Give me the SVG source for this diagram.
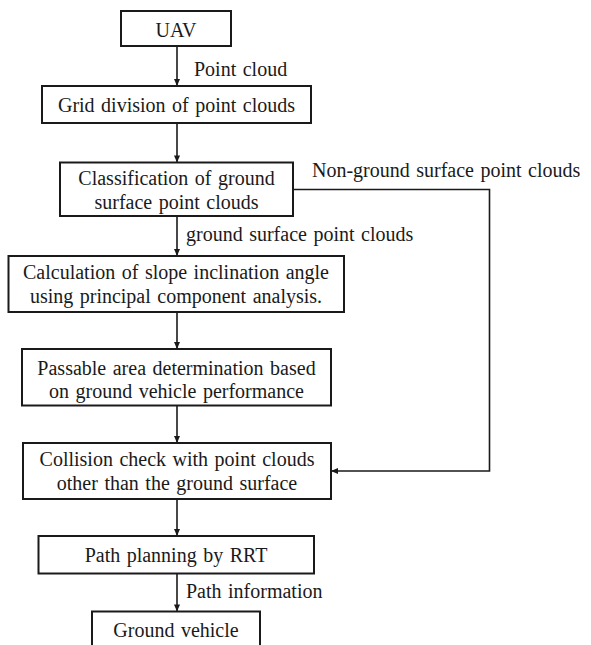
<svg xmlns="http://www.w3.org/2000/svg" width="591" height="645" viewBox="0 0 591 645">
<style>
.box{fill:#fff;stroke:#1a1a1a;stroke-width:2}
.t{font-family:"Liberation Serif","Times New Roman",serif;font-size:20px;fill:#1a1a1a;word-spacing:1.5px}
.c{text-anchor:middle}
.ln{fill:none;stroke:#1a1a1a;stroke-width:1.6}
</style>
<defs>
<marker id="ah" markerUnits="userSpaceOnUse" markerWidth="10" markerHeight="10" viewBox="0 0 10 10" refX="8" refY="5" orient="auto">
<path d="M1,2 L8,5 L1,8 Z" fill="#1a1a1a"/>
</marker>
</defs>
<rect width="591" height="645" fill="#fff"/>
<g id="connectors">
<line class="ln" x1="177" y1="46" x2="177" y2="86" marker-end="url(#ah)"/>
<line class="ln" x1="177" y1="123" x2="177" y2="162.5" marker-end="url(#ah)"/>
<line class="ln" x1="177" y1="216" x2="177" y2="256" marker-end="url(#ah)"/>
<line class="ln" x1="177" y1="312" x2="177" y2="349" marker-end="url(#ah)"/>
<line class="ln" x1="177" y1="405.5" x2="177" y2="443" marker-end="url(#ah)"/>
<polyline class="ln" points="293,189.5 489.5,189.5 489.5,471 331,471" marker-end="url(#ah)"/>
<line class="ln" x1="177" y1="499" x2="177" y2="536" marker-end="url(#ah)"/>
<line class="ln" x1="177" y1="573.5" x2="177" y2="611.5" marker-end="url(#ah)"/>
<text class="t" x="194" y="76">Point cloud</text>
<text class="t" x="312" y="177">Non-ground surface point clouds</text>
<text class="t" x="186" y="241">ground surface point clouds</text>
<text class="t" x="186" y="598">Path information</text>
</g>
<g id="uav">
<rect class="box" x="121" y="11" width="110" height="35"/>
<text class="t c" x="176" y="37">UAV</text>
</g>
<g id="grid">
<rect class="box" x="42" y="86" width="269" height="37"/>
<text class="t c" x="176.5" y="112">Grid division of point clouds</text>
</g>
<g id="classification">
<rect class="box" x="60" y="162.5" width="233" height="53.5"/>
<text class="t c" x="176.5" y="185">Classification of ground</text>
<text class="t c" x="176.5" y="209">surface point clouds</text>
</g>
<g id="calculation">
<rect class="box" x="8.5" y="256" width="335.5" height="56"/>
<text class="t c" x="176" y="278.5">Calculation of slope inclination angle</text>
<text class="t c" x="176" y="302.5">using principal component analysis.</text>
</g>
<g id="passable">
<rect class="box" x="22" y="349" width="309" height="56.5"/>
<text class="t c" x="176.5" y="374.5">Passable area determination based</text>
<text class="t c" x="176.5" y="398">on ground vehicle performance</text>
</g>
<g id="collision">
<rect class="box" x="23" y="443" width="308" height="56"/>
<text class="t c" x="177" y="466">Collision check with point clouds</text>
<text class="t c" x="177" y="490">other than the ground surface</text>
</g>
<g id="path">
<rect class="box" x="38.5" y="536" width="275.5" height="37.5"/>
<text class="t c" x="176" y="562">Path planning by RRT</text>
</g>
<g id="ground-vehicle">
<rect class="box" x="92" y="611.5" width="168" height="40"/>
<text class="t c" x="176" y="637">Ground vehicle</text>
</g>
</svg>
